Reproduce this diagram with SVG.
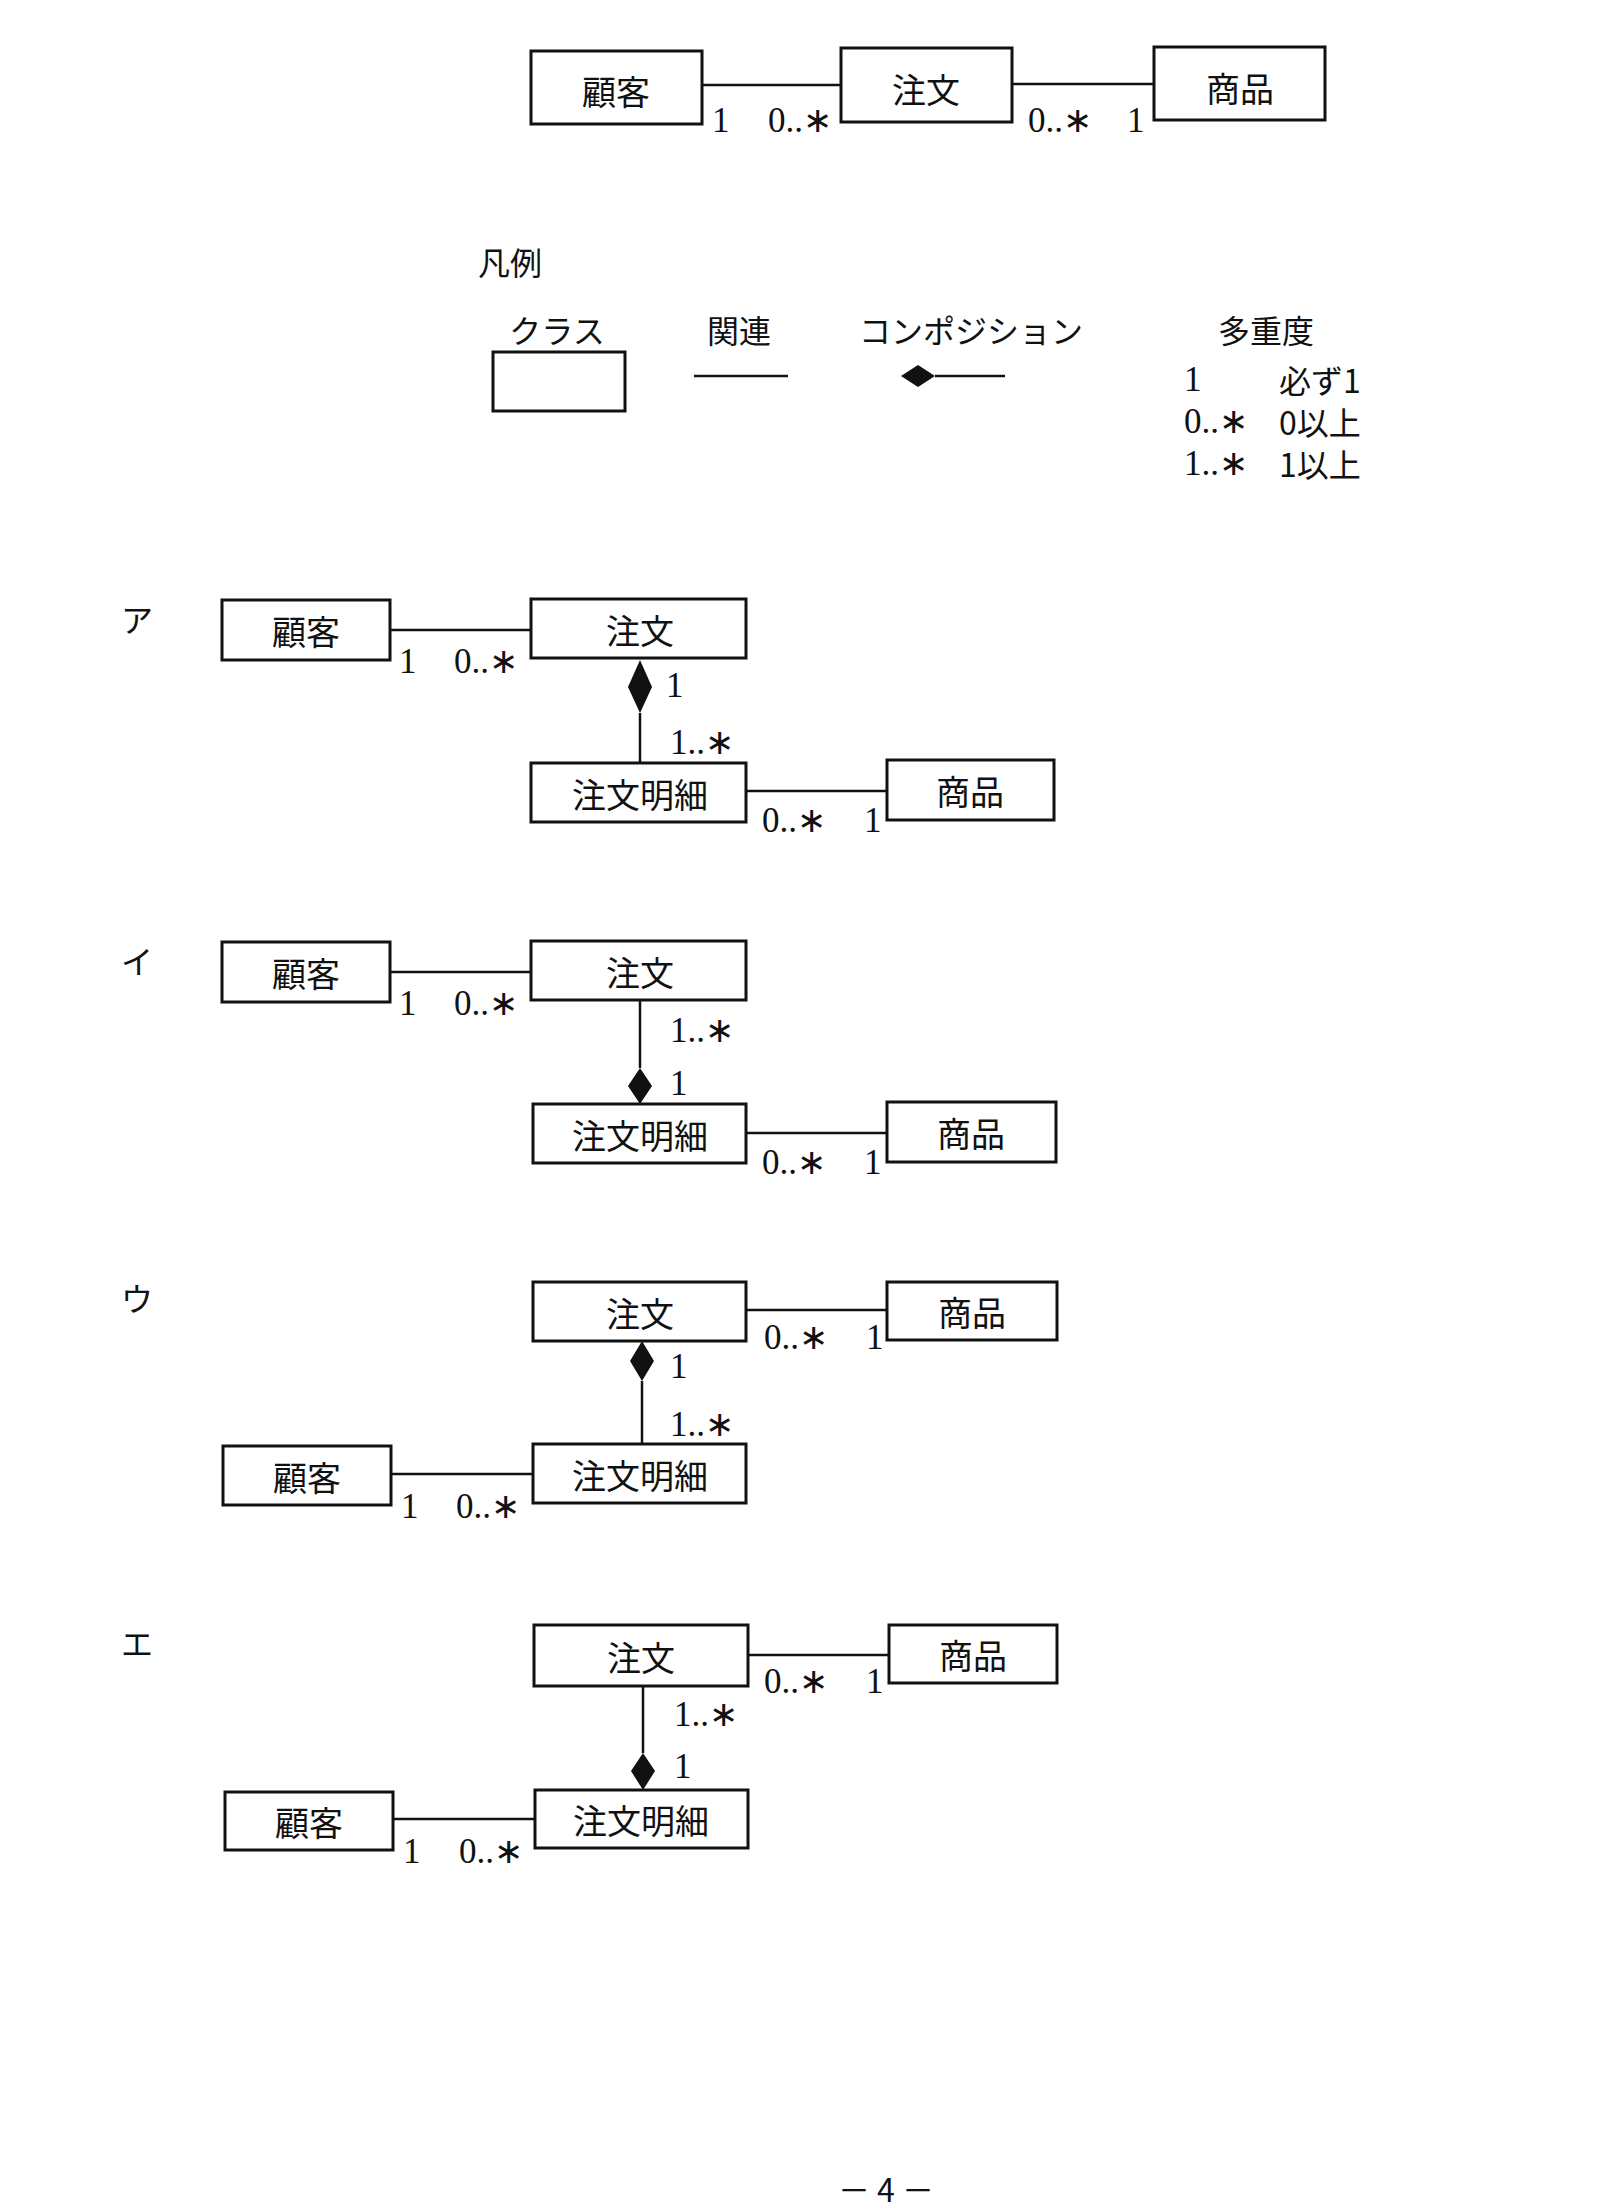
<svg xmlns="http://www.w3.org/2000/svg" width="1600" height="2210" viewBox="0 0 1600 2210">
<style>
.b{fill:#fff;stroke:#111;stroke-width:3}
.t{font-family:"Noto Sans CJK JP","Noto Sans",sans-serif;font-size:34px;fill:#111;text-anchor:middle;dominant-baseline:central}
.m{font-family:"Liberation Serif","Noto Sans CJK JP",serif;font-size:35px;fill:#111;dominant-baseline:central}
.j{font-family:"Noto Sans CJK JP",sans-serif;font-size:32px;fill:#111;dominant-baseline:central}
.l{stroke:#111;stroke-width:2.5;fill:none}
.d{fill:#111}
</style>
<g id="top">
<g id="t-kokyaku"><rect class="b" x="531" y="51" width="171" height="73"/><text class="t" x="616" y="90">顧客</text></g>
<g id="t-chumon"><rect class="b" x="841" y="48" width="171" height="74"/><text class="t" x="926" y="88">注文</text></g>
<g id="t-shohin"><rect class="b" x="1154" y="47" width="171" height="73"/><text class="t" x="1240" y="87">商品</text></g>
</g>
<g id="legend">
<text class="j" x="478" y="261">凡例</text>
<text class="j" x="557" y="329" text-anchor="middle">クラス</text>
<rect class="b" x="493" y="352" width="132" height="59"/>
<text class="j" x="739" y="329" text-anchor="middle">関連</text>
<line class="l" x1="694" y1="376" x2="788" y2="376"/>
<text class="j" x="971" y="329" text-anchor="middle">コンポジション</text>
<polygon class="d" points="901,376 918,365 935,376 918,387"/>
<line class="l" x1="935" y1="376" x2="1005" y2="376"/>
<text class="j" x="1266" y="329" text-anchor="middle">多重度</text>
<text class="m" x="1184" y="379">1</text><text class="j" x="1279" y="379">必ず1</text>
<text class="m" x="1184" y="421">0..∗</text><text class="j" x="1279" y="421">0以上</text>
<text class="m" x="1184" y="463">1..∗</text><text class="j" x="1279" y="463">1以上</text>
</g>
<text class="j" x="137" y="618" text-anchor="middle">ア</text>
<text class="j" x="137" y="960" text-anchor="middle">イ</text>
<text class="j" x="137" y="1297" text-anchor="middle">ウ</text>
<text class="j" x="137" y="1642" text-anchor="middle">エ</text>
<g id="a-kokyaku"><rect class="b" x="222" y="600" width="168" height="60"/><text class="t" x="306" y="630">顧客</text></g>
<g id="a-chumon"><rect class="b" x="531" y="599" width="215" height="59"/><text class="t" x="640" y="629">注文</text></g>
<g id="a-meisai"><rect class="b" x="531" y="763" width="215" height="59"/><text class="t" x="640" y="793">注文明細</text></g>
<g id="a-shohin"><rect class="b" x="887" y="760" width="167" height="60"/><text class="t" x="970" y="790">商品</text></g>
<g id="i-kokyaku"><rect class="b" x="222" y="942" width="168" height="60"/><text class="t" x="306" y="972">顧客</text></g>
<g id="i-chumon"><rect class="b" x="531" y="941" width="215" height="59"/><text class="t" x="640" y="971">注文</text></g>
<g id="i-meisai"><rect class="b" x="533" y="1104" width="213" height="59"/><text class="t" x="640" y="1134">注文明細</text></g>
<g id="i-shohin"><rect class="b" x="887" y="1102" width="169" height="60"/><text class="t" x="971" y="1132">商品</text></g>
<g id="u-chumon"><rect class="b" x="533" y="1282" width="213" height="59"/><text class="t" x="640" y="1312">注文</text></g>
<g id="u-shohin"><rect class="b" x="887" y="1282" width="170" height="58"/><text class="t" x="972" y="1311">商品</text></g>
<g id="u-meisai"><rect class="b" x="533" y="1444" width="213" height="59"/><text class="t" x="640" y="1474">注文明細</text></g>
<g id="u-kokyaku"><rect class="b" x="223" y="1446" width="168" height="59"/><text class="t" x="307" y="1476">顧客</text></g>
<g id="e-chumon"><rect class="b" x="534" y="1625" width="214" height="61"/><text class="t" x="641" y="1656">注文</text></g>
<g id="e-shohin"><rect class="b" x="889" y="1625" width="168" height="58"/><text class="t" x="973" y="1654">商品</text></g>
<g id="e-meisai"><rect class="b" x="535" y="1790" width="213" height="58"/><text class="t" x="641" y="1819">注文明細</text></g>
<g id="e-kokyaku"><rect class="b" x="225" y="1792" width="168" height="58"/><text class="t" x="309" y="1821">顧客</text></g>
<g id="connectors">
<line class="l" x1="702" y1="85" x2="841" y2="85"/>
<line class="l" x1="1012" y1="84" x2="1154" y2="84"/>
<line class="l" x1="390" y1="630" x2="531" y2="630"/>
<polygon class="d" points="640,660 652,687 640,713 628,687"/>
<line class="l" x1="640" y1="713" x2="640" y2="763"/>
<line class="l" x1="746" y1="791" x2="887" y2="791"/>
<line class="l" x1="390" y1="972" x2="531" y2="972"/>
<line class="l" x1="640" y1="1000" x2="640" y2="1068"/>
<polygon class="d" points="640,1068 652,1086 640,1104 628,1086"/>
<line class="l" x1="746" y1="1133" x2="887" y2="1133"/>
<line class="l" x1="746" y1="1310" x2="887" y2="1310"/>
<polygon class="d" points="642,1341 654,1361 642,1381 630,1361"/>
<line class="l" x1="642" y1="1381" x2="642" y2="1444"/>
<line class="l" x1="391" y1="1474" x2="533" y2="1474"/>
<line class="l" x1="748" y1="1655" x2="889" y2="1655"/>
<line class="l" x1="643" y1="1686" x2="643" y2="1753"/>
<polygon class="d" points="643,1753 655,1771 643,1790 631,1771"/>
<line class="l" x1="393" y1="1819" x2="535" y2="1819"/>
</g>
<g id="labels">
<text class="m" x="712" y="120">1</text><text class="m" x="768" y="120">0..∗</text>
<text class="m" x="1028" y="120">0..∗</text><text class="m" x="1127" y="120">1</text>
<text class="m" x="399" y="661">1</text><text class="m" x="454" y="661">0..∗</text>
<text class="m" x="666" y="685">1</text><text class="m" x="670" y="742">1..∗</text>
<text class="m" x="762" y="820">0..∗</text><text class="m" x="864" y="820">1</text>
<text class="m" x="399" y="1003">1</text><text class="m" x="454" y="1003">0..∗</text>
<text class="m" x="670" y="1030">1..∗</text><text class="m" x="670" y="1083">1</text>
<text class="m" x="762" y="1162">0..∗</text><text class="m" x="864" y="1162">1</text>
<text class="m" x="764" y="1337">0..∗</text><text class="m" x="866" y="1337">1</text>
<text class="m" x="670" y="1366">1</text><text class="m" x="670" y="1424">1..∗</text>
<text class="m" x="401" y="1506">1</text><text class="m" x="456" y="1506">0..∗</text>
<text class="m" x="764" y="1681">0..∗</text><text class="m" x="866" y="1681">1</text>
<text class="m" x="674" y="1714">1..∗</text><text class="m" x="674" y="1766">1</text>
<text class="m" x="403" y="1851">1</text><text class="m" x="459" y="1851">0..∗</text>
</g>
<text class="j" x="886" y="2202" text-anchor="middle" style="dominant-baseline:auto">－ 4 －</text>
</svg>
